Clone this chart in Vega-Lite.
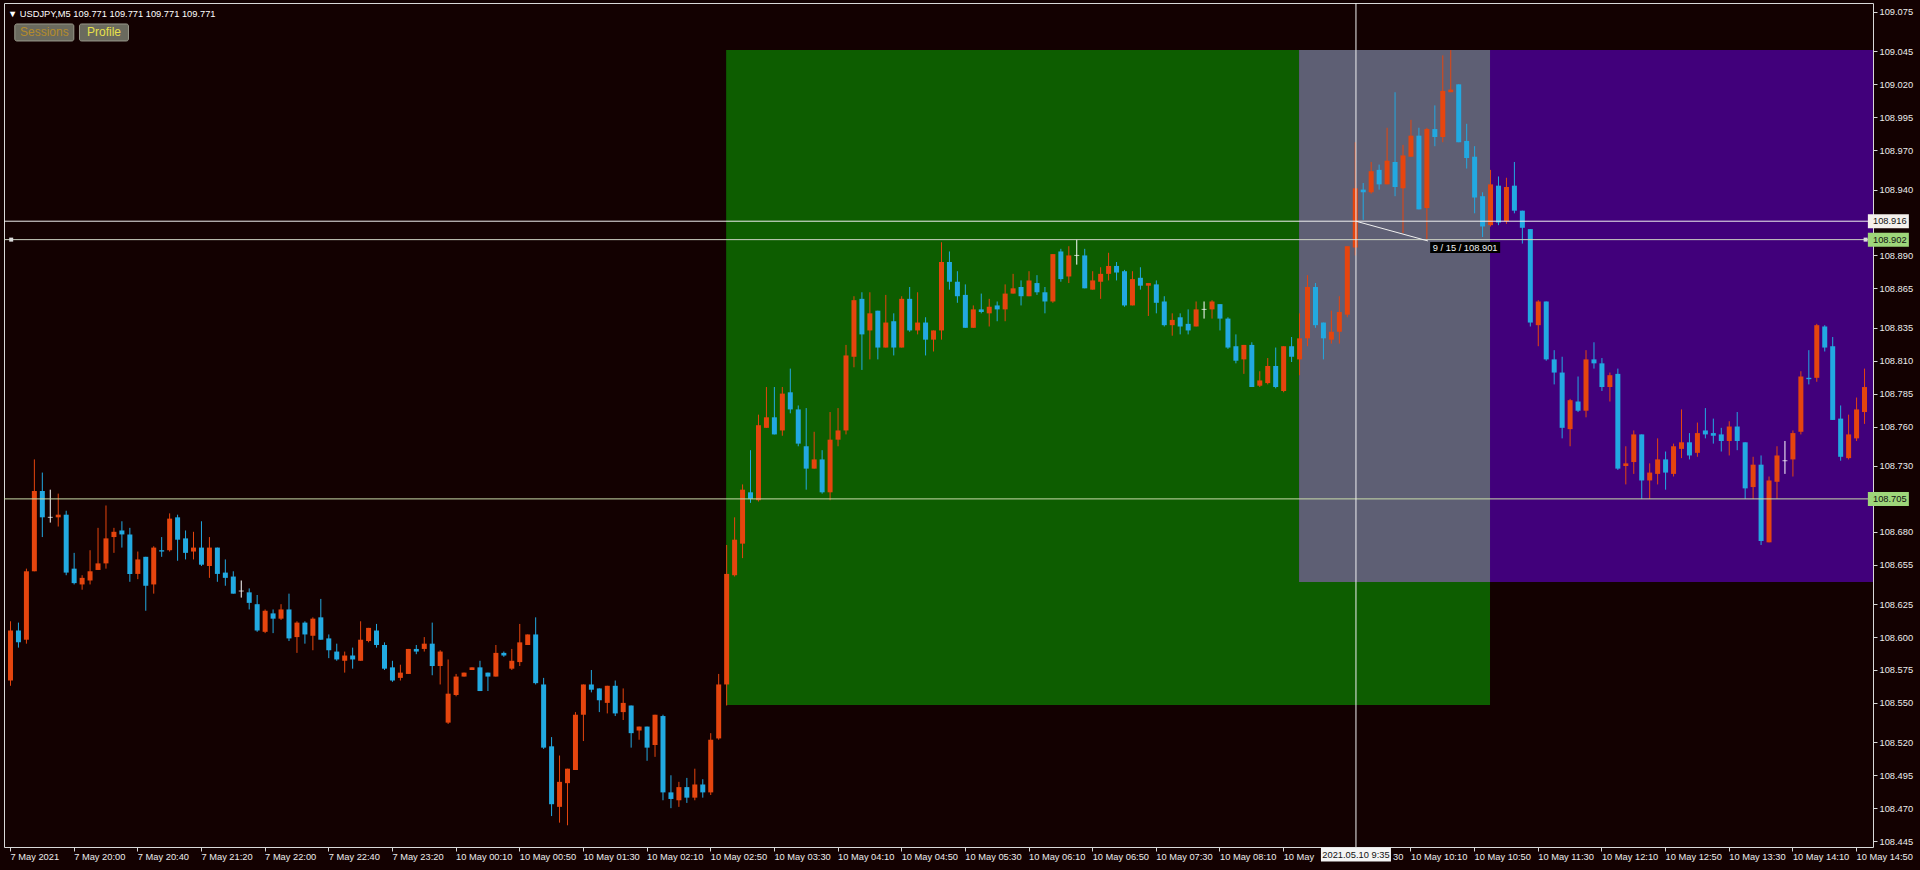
{
"$schema": "https://vega.github.io/schema/vega-lite/v6.json",
"width": 1869,
"height": 844,
"autosize": {"type": "none"},
"padding": {"left": 4, "top": 3, "right": 47, "bottom": 23},
"background": "#130101",
"config": {
  "view": {"stroke": "#d8d8d8", "strokeWidth": 1},
  "axis": {"grid": false, "domain": false, "labelFont": "Liberation Sans", "labelFontSize": 9.3, "labelColor": "#ececec", "tickColor": "#d8d8d8", "tickSize": 4, "labelOverlap": false, "labelFlush": false},
  "text": {"font": "Liberation Sans", "fontSize": 9.3}
},
"resolve": {"axis": {"x": "independent", "y": "independent"}},
"title": {"text": "▼ USDJPY,M5  109.771 109.771 109.771 109.771", "anchor": "start", "frame": "group", "offset": -17, "dx": 4, "font": "Liberation Sans", "fontSize": 9.3, "fontWeight": "normal", "color": "#ffffff"},
"datasets": {
"candles": [
{"i":0,"o":108.567,"h":108.612,"l":108.563,"c":108.605},
{"i":1,"o":108.605,"h":108.611,"l":108.592,"c":108.596},
{"i":2,"o":108.598,"h":108.652,"l":108.595,"c":108.650},
{"i":3,"o":108.650,"h":108.735,"l":108.650,"c":108.711},
{"i":4,"o":108.711,"h":108.725,"l":108.676,"c":108.691},
{"i":5,"o":108.691,"h":108.712,"l":108.687,"c":108.691},
{"i":6,"o":108.691,"h":108.709,"l":108.684,"c":108.693},
{"i":7,"o":108.693,"h":108.696,"l":108.647,"c":108.649},
{"i":8,"o":108.652,"h":108.664,"l":108.640,"c":108.641},
{"i":9,"o":108.640,"h":108.647,"l":108.636,"c":108.645},
{"i":10,"o":108.643,"h":108.666,"l":108.640,"c":108.650},
{"i":11,"o":108.651,"h":108.683,"l":108.651,"c":108.656},
{"i":12,"o":108.656,"h":108.700,"l":108.652,"c":108.675},
{"i":13,"o":108.676,"h":108.683,"l":108.664,"c":108.680},
{"i":14,"o":108.681,"h":108.688,"l":108.668,"c":108.678},
{"i":15,"o":108.678,"h":108.683,"l":108.642,"c":108.648},
{"i":16,"o":108.648,"h":108.665,"l":108.644,"c":108.659},
{"i":17,"o":108.661,"h":108.661,"l":108.620,"c":108.639},
{"i":18,"o":108.640,"h":108.669,"l":108.633,"c":108.668},
{"i":19,"o":108.666,"h":108.676,"l":108.661,"c":108.665},
{"i":20,"o":108.666,"h":108.694,"l":108.665,"c":108.690},
{"i":21,"o":108.691,"h":108.693,"l":108.658,"c":108.674},
{"i":22,"o":108.675,"h":108.681,"l":108.659,"c":108.664},
{"i":23,"o":108.665,"h":108.680,"l":108.659,"c":108.668},
{"i":24,"o":108.668,"h":108.688,"l":108.654,"c":108.655},
{"i":25,"o":108.654,"h":108.676,"l":108.645,"c":108.668},
{"i":26,"o":108.668,"h":108.668,"l":108.642,"c":108.648},
{"i":27,"o":108.649,"h":108.659,"l":108.639,"c":108.645},
{"i":28,"o":108.646,"h":108.650,"l":108.633,"c":108.633},
{"i":29,"o":108.635,"h":108.643,"l":108.630,"c":108.635},
{"i":30,"o":108.634,"h":108.637,"l":108.621,"c":108.626},
{"i":31,"o":108.625,"h":108.632,"l":108.604,"c":108.605},
{"i":32,"o":108.604,"h":108.621,"l":108.603,"c":108.620},
{"i":33,"o":108.618,"h":108.621,"l":108.603,"c":108.614},
{"i":34,"o":108.614,"h":108.625,"l":108.613,"c":108.621},
{"i":35,"o":108.621,"h":108.633,"l":108.597,"c":108.599},
{"i":36,"o":108.600,"h":108.612,"l":108.588,"c":108.611},
{"i":37,"o":108.611,"h":108.612,"l":108.595,"c":108.602},
{"i":38,"o":108.601,"h":108.615,"l":108.590,"c":108.614},
{"i":39,"o":108.615,"h":108.629,"l":108.598,"c":108.598},
{"i":40,"o":108.599,"h":108.602,"l":108.584,"c":108.590},
{"i":41,"o":108.589,"h":108.595,"l":108.582,"c":108.583},
{"i":42,"o":108.582,"h":108.589,"l":108.573,"c":108.586},
{"i":43,"o":108.586,"h":108.592,"l":108.576,"c":108.583},
{"i":44,"o":108.582,"h":108.612,"l":108.582,"c":108.598},
{"i":45,"o":108.597,"h":108.607,"l":108.596,"c":108.607},
{"i":46,"o":108.605,"h":108.610,"l":108.592,"c":108.594},
{"i":47,"o":108.594,"h":108.596,"l":108.575,"c":108.576},
{"i":48,"o":108.577,"h":108.582,"l":108.566,"c":108.567},
{"i":49,"o":108.569,"h":108.579,"l":108.567,"c":108.573},
{"i":50,"o":108.572,"h":108.591,"l":108.572,"c":108.591},
{"i":51,"o":108.591,"h":108.594,"l":108.587,"c":108.589},
{"i":52,"o":108.591,"h":108.600,"l":108.589,"c":108.595},
{"i":53,"o":108.595,"h":108.611,"l":108.571,"c":108.578},
{"i":54,"o":108.578,"h":108.590,"l":108.564,"c":108.589},
{"i":55,"o":108.535,"h":108.583,"l":108.534,"c":108.557},
{"i":56,"o":108.556,"h":108.572,"l":108.555,"c":108.570},
{"i":57,"o":108.570,"h":108.573,"l":108.570,"c":108.573},
{"i":58,"o":108.575,"h":108.577,"l":108.575,"c":108.577},
{"i":59,"o":108.577,"h":108.582,"l":108.559,"c":108.559},
{"i":60,"o":108.573,"h":108.573,"l":108.559,"c":108.570},
{"i":61,"o":108.570,"h":108.594,"l":108.570,"c":108.588},
{"i":62,"o":108.588,"h":108.589,"l":108.585,"c":108.586},
{"i":63,"o":108.576,"h":108.591,"l":108.575,"c":108.582},
{"i":64,"o":108.581,"h":108.610,"l":108.578,"c":108.596},
{"i":65,"o":108.594,"h":108.602,"l":108.594,"c":108.602},
{"i":66,"o":108.602,"h":108.615,"l":108.564,"c":108.565},
{"i":67,"o":108.564,"h":108.569,"l":108.515,"c":108.516},
{"i":68,"o":108.517,"h":108.524,"l":108.464,"c":108.473},
{"i":69,"o":108.471,"h":108.510,"l":108.459,"c":108.490},
{"i":70,"o":108.489,"h":108.500,"l":108.457,"c":108.500},
{"i":71,"o":108.499,"h":108.543,"l":108.499,"c":108.541},
{"i":72,"o":108.541,"h":108.564,"l":108.521,"c":108.564},
{"i":73,"o":108.564,"h":108.575,"l":108.558,"c":108.560},
{"i":74,"o":108.561,"h":108.561,"l":108.543,"c":108.552},
{"i":75,"o":108.550,"h":108.563,"l":108.542,"c":108.563},
{"i":76,"o":108.563,"h":108.567,"l":108.540,"c":108.542},
{"i":77,"o":108.543,"h":108.561,"l":108.537,"c":108.550},
{"i":78,"o":108.548,"h":108.548,"l":108.516,"c":108.527},
{"i":79,"o":108.529,"h":108.532,"l":108.522,"c":108.532},
{"i":80,"o":108.532,"h":108.532,"l":108.506,"c":108.516},
{"i":81,"o":108.518,"h":108.541,"l":108.509,"c":108.541},
{"i":82,"o":108.540,"h":108.541,"l":108.476,"c":108.482},
{"i":83,"o":108.482,"h":108.495,"l":108.470,"c":108.477},
{"i":84,"o":108.476,"h":108.490,"l":108.471,"c":108.486},
{"i":85,"o":108.486,"h":108.493,"l":108.474,"c":108.478},
{"i":86,"o":108.478,"h":108.500,"l":108.476,"c":108.488},
{"i":87,"o":108.488,"h":108.492,"l":108.478,"c":108.482},
{"i":88,"o":108.482,"h":108.527,"l":108.480,"c":108.522},
{"i":89,"o":108.523,"h":108.572,"l":108.522,"c":108.564},
{"i":90,"o":108.564,"h":108.670,"l":108.548,"c":108.648},
{"i":91,"o":108.647,"h":108.691,"l":108.646,"c":108.674},
{"i":92,"o":108.671,"h":108.716,"l":108.660,"c":108.712},
{"i":93,"o":108.710,"h":108.742,"l":108.702,"c":108.705},
{"i":94,"o":108.704,"h":108.769,"l":108.703,"c":108.761},
{"i":95,"o":108.759,"h":108.790,"l":108.759,"c":108.767},
{"i":96,"o":108.767,"h":108.790,"l":108.754,"c":108.754},
{"i":97,"o":108.757,"h":108.790,"l":108.753,"c":108.785},
{"i":98,"o":108.786,"h":108.804,"l":108.770,"c":108.773},
{"i":99,"o":108.773,"h":108.776,"l":108.745,"c":108.747},
{"i":100,"o":108.745,"h":108.774,"l":108.712,"c":108.728},
{"i":101,"o":108.728,"h":108.756,"l":108.728,"c":108.735},
{"i":102,"o":108.735,"h":108.742,"l":108.709,"c":108.710},
{"i":103,"o":108.710,"h":108.771,"l":108.704,"c":108.750},
{"i":104,"o":108.750,"h":108.774,"l":108.745,"c":108.757},
{"i":105,"o":108.757,"h":108.822,"l":108.754,"c":108.814},
{"i":106,"o":108.813,"h":108.859,"l":108.805,"c":108.856},
{"i":107,"o":108.857,"h":108.862,"l":108.803,"c":108.830},
{"i":108,"o":108.833,"h":108.862,"l":108.811,"c":108.846},
{"i":109,"o":108.848,"h":108.848,"l":108.811,"c":108.820},
{"i":110,"o":108.820,"h":108.860,"l":108.820,"c":108.839},
{"i":111,"o":108.840,"h":108.846,"l":108.814,"c":108.820},
{"i":112,"o":108.820,"h":108.859,"l":108.820,"c":108.857},
{"i":113,"o":108.857,"h":108.866,"l":108.832,"c":108.833},
{"i":114,"o":108.833,"h":108.862,"l":108.830,"c":108.839},
{"i":115,"o":108.839,"h":108.843,"l":108.814,"c":108.826},
{"i":116,"o":108.826,"h":108.833,"l":108.817,"c":108.833},
{"i":117,"o":108.833,"h":108.900,"l":108.826,"c":108.885},
{"i":118,"o":108.885,"h":108.893,"l":108.864,"c":108.870},
{"i":119,"o":108.870,"h":108.878,"l":108.854,"c":108.859},
{"i":120,"o":108.860,"h":108.868,"l":108.835,"c":108.835},
{"i":121,"o":108.835,"h":108.852,"l":108.835,"c":108.849},
{"i":122,"o":108.849,"h":108.861,"l":108.846,"c":108.847},
{"i":123,"o":108.846,"h":108.857,"l":108.836,"c":108.851},
{"i":124,"o":108.852,"h":108.855,"l":108.840,"c":108.849},
{"i":125,"o":108.849,"h":108.868,"l":108.840,"c":108.861},
{"i":126,"o":108.861,"h":108.876,"l":108.861,"c":108.865},
{"i":127,"o":108.866,"h":108.871,"l":108.852,"c":108.859},
{"i":128,"o":108.859,"h":108.878,"l":108.859,"c":108.871},
{"i":129,"o":108.869,"h":108.875,"l":108.860,"c":108.862},
{"i":130,"o":108.862,"h":108.866,"l":108.846,"c":108.855},
{"i":131,"o":108.855,"h":108.891,"l":108.854,"c":108.891},
{"i":132,"o":108.893,"h":108.895,"l":108.870,"c":108.872},
{"i":133,"o":108.874,"h":108.897,"l":108.869,"c":108.890},
{"i":134,"o":108.890,"h":108.902,"l":108.883,"c":108.890},
{"i":135,"o":108.890,"h":108.895,"l":108.865,"c":108.865},
{"i":136,"o":108.864,"h":108.878,"l":108.864,"c":108.871},
{"i":137,"o":108.870,"h":108.881,"l":108.857,"c":108.876},
{"i":138,"o":108.876,"h":108.892,"l":108.871,"c":108.882},
{"i":139,"o":108.882,"h":108.885,"l":108.871,"c":108.877},
{"i":140,"o":108.878,"h":108.879,"l":108.851,"c":108.852},
{"i":141,"o":108.852,"h":108.878,"l":108.852,"c":108.872},
{"i":142,"o":108.873,"h":108.881,"l":108.864,"c":108.867},
{"i":143,"o":108.867,"h":108.869,"l":108.844,"c":108.869},
{"i":144,"o":108.868,"h":108.871,"l":108.846,"c":108.854},
{"i":145,"o":108.855,"h":108.859,"l":108.836,"c":108.837},
{"i":146,"o":108.837,"h":108.846,"l":108.829,"c":108.841},
{"i":147,"o":108.843,"h":108.846,"l":108.830,"c":108.836},
{"i":148,"o":108.838,"h":108.849,"l":108.830,"c":108.833},
{"i":149,"o":108.836,"h":108.855,"l":108.836,"c":108.849},
{"i":150,"o":108.849,"h":108.855,"l":108.842,"c":108.849},
{"i":151,"o":108.849,"h":108.856,"l":108.842,"c":108.855},
{"i":152,"o":108.853,"h":108.853,"l":108.833,"c":108.842},
{"i":153,"o":108.842,"h":108.843,"l":108.819,"c":108.820},
{"i":154,"o":108.821,"h":108.830,"l":108.808,"c":108.810},
{"i":155,"o":108.811,"h":108.822,"l":108.800,"c":108.822},
{"i":156,"o":108.822,"h":108.824,"l":108.790,"c":108.790},
{"i":157,"o":108.791,"h":108.802,"l":108.790,"c":108.795},
{"i":158,"o":108.793,"h":108.812,"l":108.792,"c":108.806},
{"i":159,"o":108.806,"h":108.820,"l":108.789,"c":108.790},
{"i":160,"o":108.787,"h":108.821,"l":108.786,"c":108.821},
{"i":161,"o":108.821,"h":108.828,"l":108.809,"c":108.813},
{"i":162,"o":108.811,"h":108.846,"l":108.799,"c":108.827},
{"i":163,"o":108.827,"h":108.875,"l":108.821,"c":108.866},
{"i":164,"o":108.866,"h":108.869,"l":108.835,"c":108.837},
{"i":165,"o":108.839,"h":108.839,"l":108.811,"c":108.827},
{"i":166,"o":108.826,"h":108.848,"l":108.823,"c":108.832},
{"i":167,"o":108.832,"h":108.859,"l":108.823,"c":108.847},
{"i":168,"o":108.845,"h":108.897,"l":108.843,"c":108.897},
{"i":169,"o":108.896,"h":108.976,"l":108.890,"c":108.941},
{"i":170,"o":108.940,"h":108.945,"l":108.917,"c":108.938},
{"i":171,"o":108.938,"h":108.961,"l":108.937,"c":108.954},
{"i":172,"o":108.955,"h":108.959,"l":108.940,"c":108.944},
{"i":173,"o":108.944,"h":108.987,"l":108.944,"c":108.962},
{"i":174,"o":108.961,"h":109.014,"l":108.935,"c":108.942},
{"i":175,"o":108.941,"h":108.974,"l":108.907,"c":108.966},
{"i":176,"o":108.965,"h":108.993,"l":108.965,"c":108.981},
{"i":177,"o":108.981,"h":108.987,"l":108.925,"c":108.925},
{"i":178,"o":108.926,"h":108.987,"l":108.902,"c":108.986},
{"i":179,"o":108.986,"h":109.004,"l":108.973,"c":108.980},
{"i":180,"o":108.980,"h":109.042,"l":108.976,"c":109.015},
{"i":181,"o":109.014,"h":109.046,"l":109.014,"c":109.016},
{"i":182,"o":109.020,"h":109.020,"l":108.976,"c":108.976},
{"i":183,"o":108.977,"h":108.990,"l":108.956,"c":108.964},
{"i":184,"o":108.965,"h":108.973,"l":108.922,"c":108.934},
{"i":185,"o":108.935,"h":108.938,"l":108.904,"c":108.912},
{"i":186,"o":108.913,"h":108.955,"l":108.912,"c":108.944},
{"i":187,"o":108.943,"h":108.950,"l":108.913,"c":108.915},
{"i":188,"o":108.916,"h":108.949,"l":108.914,"c":108.942},
{"i":189,"o":108.943,"h":108.961,"l":108.922,"c":108.924},
{"i":190,"o":108.924,"h":108.924,"l":108.899,"c":108.911},
{"i":191,"o":108.910,"h":108.910,"l":108.836,"c":108.839},
{"i":192,"o":108.837,"h":108.856,"l":108.821,"c":108.855},
{"i":193,"o":108.855,"h":108.855,"l":108.810,"c":108.811},
{"i":194,"o":108.811,"h":108.818,"l":108.792,"c":108.801},
{"i":195,"o":108.801,"h":108.813,"l":108.751,"c":108.759},
{"i":196,"o":108.758,"h":108.781,"l":108.745,"c":108.780},
{"i":197,"o":108.779,"h":108.798,"l":108.771,"c":108.772},
{"i":198,"o":108.772,"h":108.818,"l":108.767,"c":108.811},
{"i":199,"o":108.811,"h":108.824,"l":108.804,"c":108.808},
{"i":200,"o":108.808,"h":108.812,"l":108.787,"c":108.790},
{"i":201,"o":108.790,"h":108.801,"l":108.779,"c":108.799},
{"i":202,"o":108.800,"h":108.804,"l":108.727,"c":108.728},
{"i":203,"o":108.730,"h":108.745,"l":108.716,"c":108.732},
{"i":204,"o":108.733,"h":108.757,"l":108.724,"c":108.754},
{"i":205,"o":108.754,"h":108.754,"l":108.705,"c":108.719},
{"i":206,"o":108.719,"h":108.732,"l":108.705,"c":108.725},
{"i":207,"o":108.724,"h":108.751,"l":108.716,"c":108.735},
{"i":208,"o":108.735,"h":108.741,"l":108.712,"c":108.725},
{"i":209,"o":108.724,"h":108.747,"l":108.722,"c":108.745},
{"i":210,"o":108.743,"h":108.773,"l":108.736,"c":108.748},
{"i":211,"o":108.748,"h":108.755,"l":108.735,"c":108.738},
{"i":212,"o":108.740,"h":108.763,"l":108.737,"c":108.755},
{"i":213,"o":108.757,"h":108.774,"l":108.751,"c":108.754},
{"i":214,"o":108.755,"h":108.766,"l":108.747,"c":108.753},
{"i":215,"o":108.754,"h":108.759,"l":108.741,"c":108.749},
{"i":216,"o":108.749,"h":108.764,"l":108.738,"c":108.760},
{"i":217,"o":108.760,"h":108.771,"l":108.742,"c":108.749},
{"i":218,"o":108.748,"h":108.748,"l":108.705,"c":108.713},
{"i":219,"o":108.714,"h":108.737,"l":108.705,"c":108.731},
{"i":220,"o":108.731,"h":108.738,"l":108.670,"c":108.673},
{"i":221,"o":108.672,"h":108.722,"l":108.672,"c":108.719},
{"i":222,"o":108.718,"h":108.745,"l":108.705,"c":108.738},
{"i":223,"o":108.734,"h":108.749,"l":108.724,"c":108.734},
{"i":224,"o":108.735,"h":108.757,"l":108.722,"c":108.755},
{"i":225,"o":108.756,"h":108.802,"l":108.754,"c":108.798},
{"i":226,"o":108.797,"h":108.818,"l":108.792,"c":108.796},
{"i":227,"o":108.797,"h":108.838,"l":108.794,"c":108.837},
{"i":228,"o":108.836,"h":108.837,"l":108.817,"c":108.820},
{"i":229,"o":108.821,"h":108.828,"l":108.765,"c":108.765},
{"i":230,"o":108.766,"h":108.776,"l":108.734,"c":108.737},
{"i":231,"o":108.736,"h":108.769,"l":108.735,"c":108.754},
{"i":232,"o":108.751,"h":108.782,"l":108.749,"c":108.773},
{"i":233,"o":108.771,"h":108.804,"l":108.762,"c":108.790}
],
"pricetags": [
{"p":108.916,"k":"cross"},
{"p":108.902,"k":"line"},
{"p":108.705,"k":"line"}
]
},
"layer": [
{"data": {"values": [{}]}, "mark": {"type": "rect", "color": "#0d5d00"},
 "encoding": {"x": {"datum": 90, "type": "quantitative", "scale": {"domain": [-0.125, 233.5], "nice": false, "zero": false}, "axis": null}, "x2": {"datum": 186},
  "y": {"datum": 108.5484, "type": "quantitative", "scale": {"domain": [108.4405, 109.0818], "nice": false, "zero": false}, "axis": null}, "y2": {"datum": 109.0461}}},
{"data": {"values": [{}]}, "mark": {"type": "rect", "color": "#41007b", "clip": true},
 "encoding": {"x": {"datum": 162, "type": "quantitative", "scale": {"domain": [-0.125, 233.5], "nice": false, "zero": false}, "axis": null}, "x2": {"datum": 240},
  "y": {"datum": 108.6418, "type": "quantitative", "scale": {"domain": [108.4405, 109.0818], "nice": false, "zero": false}, "axis": null}, "y2": {"datum": 109.0461}}},
{"data": {"values": [{}]}, "mark": {"type": "rect", "color": "#5e5f74"},
 "encoding": {"x": {"datum": 162, "type": "quantitative", "scale": {"domain": [-0.125, 233.5], "nice": false, "zero": false}, "axis": null}, "x2": {"datum": 186},
  "y": {"datum": 108.6418, "type": "quantitative", "scale": {"domain": [108.4405, 109.0818], "nice": false, "zero": false}, "axis": null}, "y2": {"datum": 109.0461}}},
{"data": {"name": "candles"}, "mark": {"type": "rule", "strokeWidth": 1, "xOffset": 0.5},
 "encoding": {
  "x": {"field": "i", "type": "quantitative", "scale": {"domain": [-0.125, 233.5], "nice": false, "zero": false},
   "axis": {"orient": "bottom", "title": null, "values": [0,8,16,24,32,40,48,56,64,72,80,88,96,104,112,120,128,136,144,152,160,168,176,184,192,200,208,216,224,232], "labelAlign": "left", "labelDx": 2, "labelBaseline": "top", "labelPadding": 1,
    "labelExpr": "['7 May 2021','7 May 20:00','7 May 20:40','7 May 21:20','7 May 22:00','7 May 22:40','7 May 23:20','10 May 00:10','10 May 00:50','10 May 01:30','10 May 02:10','10 May 02:50','10 May 03:30','10 May 04:10','10 May 04:50','10 May 05:30','10 May 06:10','10 May 06:50','10 May 07:30','10 May 08:10','10 May','','10 May 10:10','10 May 10:50','10 May 11:30','10 May 12:10','10 May 12:50','10 May 13:30','10 May 14:10','10 May 14:50'][round(datum.value/8)]"}},
  "y": {"field": "l", "type": "quantitative", "scale": {"domain": [108.4405, 109.0818], "nice": false, "zero": false},
   "axis": {"orient": "right", "title": null, "values": [108.445,108.470,108.495,108.520,108.550,108.575,108.600,108.625,108.655,108.680,108.730,108.760,108.785,108.810,108.835,108.865,108.890,108.940,108.970,108.995,109.020,109.045,109.075], "format": ".3f", "labelPadding": 2, "labelBaseline": "middle"}},
  "y2": {"field": "h"},
  "color": {"condition": [{"test": "datum.c > datum.o", "value": "#e5450e"}, {"test": "datum.c < datum.o", "value": "#22a9e1"}], "value": "#ffffff"}}},
{"data": {"name": "candles"}, "mark": {"type": "bar", "width": 5, "xOffset": 0.5},
 "encoding": {
  "x": {"field": "i", "type": "quantitative", "scale": {"domain": [-0.125, 233.5], "nice": false, "zero": false}, "axis": null},
  "y": {"field": "o", "type": "quantitative", "scale": {"domain": [108.4405, 109.0818], "nice": false, "zero": false}, "axis": null},
  "y2": {"field": "c"},
  "color": {"condition": [{"test": "datum.c > datum.o", "value": "#e5450e"}, {"test": "datum.c < datum.o", "value": "#22a9e1"}], "value": "#ffffff"}}},
{"data": {"name": "candles"}, "transform": [{"filter": "datum.o == datum.c"}],
 "mark": {"type": "tick", "orient": "horizontal", "thickness": 1, "size": 5, "xOffset": 0.5, "color": "#ffffff"},
 "encoding": {
  "x": {"field": "i", "type": "quantitative", "scale": {"domain": [-0.125, 233.5], "nice": false, "zero": false}, "axis": null},
  "y": {"field": "o", "type": "quantitative", "scale": {"domain": [108.4405, 109.0818], "nice": false, "zero": false}, "axis": null}}},
{"data": {"values": [{}]}, "mark": {"type": "rule", "color": "#c9dcaa", "strokeWidth": 1},
 "encoding": {"y": {"datum": 108.705, "type": "quantitative", "scale": {"domain": [108.4405, 109.0818], "nice": false, "zero": false}, "axis": null}}},
{"data": {"values": [{}]}, "mark": {"type": "rule", "color": "#cdd3c4", "strokeWidth": 1},
 "encoding": {"y": {"datum": 108.902, "type": "quantitative", "scale": {"domain": [108.4405, 109.0818], "nice": false, "zero": false}, "axis": null}}},
{"data": {"values": [{}]}, "mark": {"type": "point", "shape": "square", "size": 16, "filled": true, "color": "#dcdcdc", "opacity": 1},
 "encoding": {"x": {"datum": 0.15, "type": "quantitative", "scale": {"domain": [-0.125, 233.5], "nice": false, "zero": false}, "axis": null},
  "y": {"datum": 108.902, "type": "quantitative", "scale": {"domain": [108.4405, 109.0818], "nice": false, "zero": false}, "axis": null}}},
{"data": {"values": [{}]}, "mark": {"type": "point", "shape": "square", "size": 16, "filled": true, "color": "#dcdcdc", "opacity": 1},
 "encoding": {"x": {"datum": 233.2, "type": "quantitative", "scale": {"domain": [-0.125, 233.5], "nice": false, "zero": false}, "axis": null},
  "y": {"datum": 108.902, "type": "quantitative", "scale": {"domain": [108.4405, 109.0818], "nice": false, "zero": false}, "axis": null}}},
{"data": {"values": [{}]}, "mark": {"type": "rule", "color": "#f0f0f0", "strokeWidth": 1},
 "encoding": {"y": {"datum": 108.916, "type": "quantitative", "scale": {"domain": [108.4405, 109.0818], "nice": false, "zero": false}, "axis": null}}},
{"data": {"values": [{}]}, "mark": {"type": "rule", "color": "#f0f0f0", "strokeWidth": 1},
 "encoding": {"x": {"datum": 169.15, "type": "quantitative", "scale": {"domain": [-0.125, 233.5], "nice": false, "zero": false}, "axis": null}}},
{"data": {"values": [{}]}, "mark": {"type": "rule", "color": "#f0f0f0", "strokeWidth": 1},
 "encoding": {"x": {"datum": 169.15, "type": "quantitative", "scale": {"domain": [-0.125, 233.5], "nice": false, "zero": false}, "axis": null}, "x2": {"datum": 178.2},
  "y": {"datum": 108.916, "type": "quantitative", "scale": {"domain": [108.4405, 109.0818], "nice": false, "zero": false}, "axis": null}, "y2": {"datum": 108.901}}},
{"data": {"values": [{}]}, "mark": {"type": "tick", "orient": "horizontal", "thickness": 11, "size": 70, "color": "#000000", "opacity": 1},
 "encoding": {"x": {"datum": 182.875, "type": "quantitative", "scale": {"domain": [-0.125, 233.5], "nice": false, "zero": false}, "axis": null},
  "y": {"datum": 108.896, "type": "quantitative", "scale": {"domain": [108.4405, 109.0818], "nice": false, "zero": false}, "axis": null}}},
{"data": {"values": [{}]}, "mark": {"type": "text", "text": "9 / 15 / 108.901", "color": "#f0f0f0", "align": "center", "baseline": "middle"},
 "encoding": {"x": {"datum": 182.875, "type": "quantitative", "scale": {"domain": [-0.125, 233.5], "nice": false, "zero": false}, "axis": null},
  "y": {"datum": 108.896, "type": "quantitative", "scale": {"domain": [108.4405, 109.0818], "nice": false, "zero": false}, "axis": null}}},
{"data": {"name": "pricetags"}, "mark": {"type": "tick", "orient": "horizontal", "thickness": 14, "size": 41, "opacity": 1},
 "encoding": {"x": {"datum": 236.06, "type": "quantitative", "scale": {"domain": [-0.125, 233.5], "nice": false, "zero": false}, "axis": null},
  "y": {"field": "p", "type": "quantitative", "scale": {"domain": [108.4405, 109.0818], "nice": false, "zero": false}, "axis": null},
  "color": {"condition": {"test": "datum.k == 'cross'", "value": "#f4f0ec"}, "value": "#9ed67a"}}},
{"data": {"name": "pricetags"}, "mark": {"type": "text", "align": "left", "baseline": "middle", "color": "#101010"},
 "encoding": {"x": {"datum": 234.125, "type": "quantitative", "scale": {"domain": [-0.125, 233.5], "nice": false, "zero": false}, "axis": null},
  "y": {"field": "p", "type": "quantitative", "scale": {"domain": [108.4405, 109.0818], "nice": false, "zero": false}, "axis": null},
  "text": {"field": "p", "format": ".3f"}}},
{"data": {"values": [{}]}, "mark": {"type": "tick", "orient": "horizontal", "thickness": 14, "size": 70, "color": "#f4f4f4", "opacity": 1},
 "encoding": {"x": {"datum": 169.15, "type": "quantitative", "scale": {"domain": [-0.125, 233.5], "nice": false, "zero": false}, "axis": null},
  "y": {"datum": 108.4348, "type": "quantitative", "scale": {"domain": [108.4405, 109.0818], "nice": false, "zero": false}, "axis": null}}},
{"data": {"values": [{}]}, "mark": {"type": "text", "text": "2021.05.10 9:35", "color": "#101010", "align": "center", "baseline": "middle"},
 "encoding": {"x": {"datum": 169.15, "type": "quantitative", "scale": {"domain": [-0.125, 233.5], "nice": false, "zero": false}, "axis": null},
  "y": {"datum": 108.4348, "type": "quantitative", "scale": {"domain": [108.4405, 109.0818], "nice": false, "zero": false}, "axis": null}}},
{"data": {"values": [{}]}, "mark": {"type": "text", "text": "30", "color": "#ececec", "align": "left", "baseline": "middle"},
 "encoding": {"x": {"datum": 173.8, "type": "quantitative", "scale": {"domain": [-0.125, 233.5], "nice": false, "zero": false}, "axis": null},
  "y": {"datum": 108.4332, "type": "quantitative", "scale": {"domain": [108.4405, 109.0818], "nice": false, "zero": false}, "axis": null}}},
{"data": {"values": [{}]}, "mark": {"type": "tick", "orient": "horizontal", "thickness": 17, "size": 59, "color": "#6a6a5e", "stroke": "#9a9a8c", "strokeWidth": 1, "cornerRadius": 2, "opacity": 1},
 "encoding": {"x": {"datum": 4.3125, "type": "quantitative", "scale": {"domain": [-0.125, 233.5], "nice": false, "zero": false}, "axis": null},
  "y": {"datum": 109.0594, "type": "quantitative", "scale": {"domain": [108.4405, 109.0818], "nice": false, "zero": false}, "axis": null}}},
{"data": {"values": [{}]}, "mark": {"type": "tick", "orient": "horizontal", "thickness": 17, "size": 49, "color": "#6a6a5e", "stroke": "#9a9a8c", "strokeWidth": 1, "cornerRadius": 2, "opacity": 1},
 "encoding": {"x": {"datum": 11.81, "type": "quantitative", "scale": {"domain": [-0.125, 233.5], "nice": false, "zero": false}, "axis": null},
  "y": {"datum": 109.0594, "type": "quantitative", "scale": {"domain": [108.4405, 109.0818], "nice": false, "zero": false}, "axis": null}}},
{"data": {"values": [{}]}, "mark": {"type": "text", "text": "Sessions", "color": "#b48c2c", "fontSize": 12, "align": "center", "baseline": "middle"},
 "encoding": {"x": {"datum": 4.3125, "type": "quantitative", "scale": {"domain": [-0.125, 233.5], "nice": false, "zero": false}, "axis": null},
  "y": {"datum": 109.0594, "type": "quantitative", "scale": {"domain": [108.4405, 109.0818], "nice": false, "zero": false}, "axis": null}}},
{"data": {"values": [{}]}, "mark": {"type": "text", "text": "Profile", "color": "#e6e04a", "fontSize": 12, "align": "center", "baseline": "middle"},
 "encoding": {"x": {"datum": 11.81, "type": "quantitative", "scale": {"domain": [-0.125, 233.5], "nice": false, "zero": false}, "axis": null},
  "y": {"datum": 109.0594, "type": "quantitative", "scale": {"domain": [108.4405, 109.0818], "nice": false, "zero": false}, "axis": null}}}
]
}
